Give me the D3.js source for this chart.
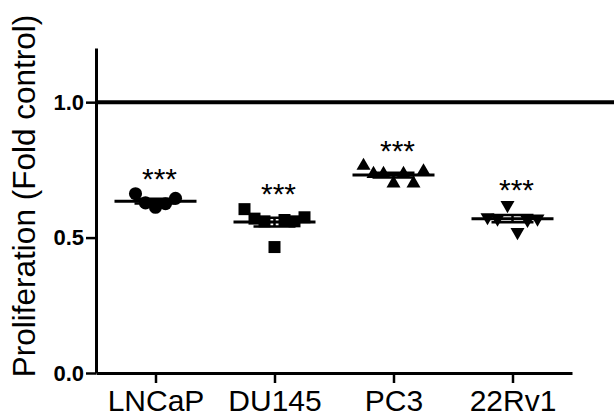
<!DOCTYPE html>
<html>
<head>
<meta charset="utf-8">
<script src="https://cdn.jsdelivr.net/npm/d3@7"></script>
<style>
  body { margin: 0; background: #fff; }
  svg { display: block; font-family: "Liberation Sans", Arial, sans-serif; }
</style>
</head>
<body>
<div id="chart"></div>
<script>
// cell lines on the x axis
const cellLines = ["LNCaP", "DU145", "PC3", "22Rv1"];

// fold-control values per cell line, listed left to right as plotted
const lncapValues = [0.662, 0.628, 0.612, 0.625, 0.645];
const du145Values = [0.605, 0.57, 0.56, 0.465, 0.565, 0.56, 0.575];
const pc3Values = [0.765, 0.735, 0.735, 0.70, 0.735, 0.70, 0.745];
const rv1Values = [0.575, 0.57, 0.62, 0.52, 0.565, 0.57];

const yTicks = [0.0, 0.5, 1.0];
const controlLevel = 1.0;
const sigLabel = "***";

const groups = [
    { name: "LNCaP", values: lncapValues, shape: "circle" },
    { name: "DU145", values: du145Values, shape: "square" },
    { name: "PC3", values: pc3Values, shape: "up" },
    { name: "22Rv1", values: rv1Values, shape: "down" }
];

const width = 614, height = 417;
const margin = { top: 48, right: 42, bottom: 44, left: 96 };
const innerW = width - margin.left - margin.right;
const innerH = height - margin.top - margin.bottom;

const svg = d3.select("#chart")
    .append("svg")
    .attr("width", width)
    .attr("height", height);

const g = svg.append("g")
    .attr("transform", `translate(${margin.left},${margin.top})`);

const x = d3.scalePoint()
    .domain(cellLines)
    .range([0, innerW])
    .padding(0.5);

const y = d3.scaleLinear()
    .domain([0, 1.2])
    .range([innerH, 0]);

// y axis
const yAxis = g.append("g")
    .call(d3.axisLeft(y).tickValues(yTicks).tickFormat(d3.format(".1f")).tickSize(10).tickSizeOuter(0));
yAxis.select(".domain").attr("stroke-width", 3);
yAxis.selectAll(".tick line").attr("stroke-width", 2.5);
yAxis.selectAll(".tick text")
    .attr("x", -12)
    .style("font-size", "22px")
    .style("font-weight", "bold")
    .style("fill", "#000");

// x axis
const xAxis = g.append("g")
    .attr("transform", `translate(0,${innerH})`)
    .call(d3.axisBottom(x).tickSize(10).tickSizeOuter(0));
xAxis.select(".domain").attr("stroke-width", 3);
xAxis.selectAll(".tick line").attr("stroke-width", 2.5);
xAxis.selectAll(".tick text")
    .attr("y", 17)
    .style("font-size", "30px")
    .style("fill", "#000");

// control reference line at 1.0, runs off the right edge
g.append("line")
    .attr("x1", 0)
    .attr("x2", width - margin.left)
    .attr("y1", y(controlLevel))
    .attr("y2", y(controlLevel))
    .attr("stroke", "#000")
    .attr("stroke-width", 4);

// y axis title
svg.append("text")
    .attr("transform", "rotate(-90)")
    .attr("x", -196)
    .attr("y", 35)
    .attr("text-anchor", "middle")
    .style("font-size", "31.5px")
    .style("fill", "#000")
    .text("Proliferation (Fold control)");

const spacing = 10;
const symbolFor = {
    circle: d3.symbol().type(d3.symbolCircle).size(135),
    square: d3.symbol().type(d3.symbolSquare).size(144),
    up: d3.symbol().type(d3.symbolTriangle).size(85),
    down: d3.symbol().type(d3.symbolTriangle).size(85)
};

groups.forEach(grp => {
    const cx = x(grp.name);
    const n = grp.values.length;
    const mean = d3.mean(grp.values);
    const sem = d3.deviation(grp.values) / Math.sqrt(n);
    const gg = g.append("g");

    // points, spread sideways in listed order
    gg.selectAll("path.pt")
        .data(grp.values)
        .enter()
        .append("path")
        .attr("class", "pt")
        .attr("d", symbolFor[grp.shape]())
        .attr("transform", (d, i) => {
            const px = cx + (i - (n - 1) / 2) * spacing;
            return `translate(${px},${y(d)})` + (grp.shape === "down" ? " rotate(180)" : "");
        })
        .attr("fill", "#000");

    // mean line
    gg.append("line")
        .attr("x1", cx - 41).attr("x2", cx + 41)
        .attr("y1", y(mean)).attr("y2", y(mean))
        .attr("stroke", "#000").attr("stroke-width", 3);

    // SEM whiskers
    gg.append("line")
        .attr("x1", cx).attr("x2", cx)
        .attr("y1", y(mean - sem)).attr("y2", y(mean + sem))
        .attr("stroke", "#000").attr("stroke-width", 2.5);
    [mean - sem, mean + sem].forEach(v => {
        gg.append("line")
            .attr("x1", cx - 21).attr("x2", cx + 21)
            .attr("y1", y(v)).attr("y2", y(v))
            .attr("stroke", "#000").attr("stroke-width", 2.5);
    });

    // significance stars above the highest point
    gg.append("text")
        .attr("x", cx + 4)
        .attr("y", y(d3.max(grp.values)) - 5)
        .attr("text-anchor", "middle")
        .style("font-size", "30px")
        .style("fill", "#000")
        .text(sigLabel);
});
</script>
</body>
</html>
